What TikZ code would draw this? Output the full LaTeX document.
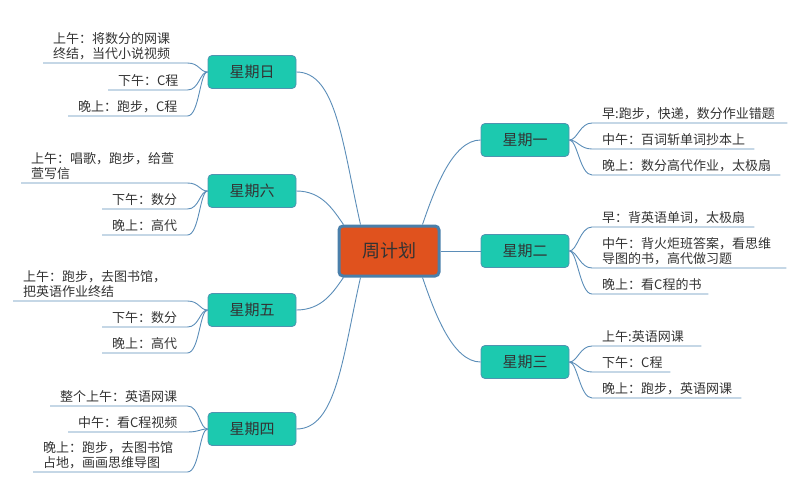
\documentclass[tikz,border=0pt]{standalone}
\usepackage{fontspec}
\setmainfont{Noto Sans CJK SC}
\definecolor{dayfill}{HTML}{1CC9AF}
\definecolor{dayline}{HTML}{4F93B0}
\definecolor{hubfill}{HTML}{E0521E}
\definecolor{hubline}{HTML}{4A7FAA}
\definecolor{branch}{HTML}{5B8DB8}
\definecolor{ink}{HTML}{333333}
\tikzset{
  hub/.style={rectangle,rounded corners=4pt,draw=hubline,line width=3pt,fill=hubfill,
    minimum width=100pt,minimum height=50pt,text=ink,font=\fontsize{18}{20}\selectfont},
  day/.style={rectangle,rounded corners=4pt,draw=dayline,line width=0.8pt,fill=dayfill,
    minimum width=88pt,minimum height=33pt,text=ink,font=\fontsize{15}{17}\selectfont},
  leaf/.style={inner xsep=10pt,inner ysep=3pt,align=left,text=ink,
    font=\fontsize{13}{15}\selectfont},
  wire/.style={draw=branch,line width=0.9pt}
}
\begin{document}
\begin{tikzpicture}[x=1pt,y=-1pt]
  \useasboundingbox (0,0) rectangle (800,500);
  % centre and days
  \node[hub] (hub) at (389,251) {周计划};
  \node[day] (sun) at (252,72) {星期日};
  \node[day] (sat) at (252,191) {星期六};
  \node[day] (fri) at (252,310) {星期五};
  \node[day] (thu) at (252,429) {星期四};
  \node[day] (mon) at (525,140) {星期一};
  \node[day] (tue) at (525,251) {星期二};
  \node[day] (wed) at (525,362) {星期三};
  % hub to days
  \coordinate (hubA) at ([xshift=6pt]hub.north west);
  \coordinate (hubB) at ([xshift=23pt]hub.north west);
  \coordinate (hubC) at ([xshift=6pt]hub.south west);
  \coordinate (hubD) at ([xshift=23pt]hub.south west);
  \coordinate (hubE) at ([xshift=-18pt]hub.north east);
  \coordinate (hubF) at ([xshift=-18pt]hub.south east);
  \draw[wire] (sun.east) .. controls +(40,0) and +(-18,-80) .. (hubB);
  \draw[wire] (sat.east) .. controls +(26,0) and +(-10,-14) .. (hubA);
  \draw[wire] (fri.east) .. controls +(26,0) and +(-10,14) .. (hubC);
  \draw[wire] (thu.east) .. controls +(40,0) and +(-18,80) .. (hubD);
  \draw[wire] (mon.west) .. controls +(-28,0) and +(12,-35) .. (hubE);
  \draw[wire] (tue.west) -- (hub.east);
  \draw[wire] (wed.west) .. controls +(-28,0) and +(12,35) .. (hubF);
  % left leaves
  \node[leaf,anchor=south west,text width=124pt] (sun1) at (43,63) {上午：将数分的网课\\终结，当代小说视频};
  \node[leaf,anchor=south west,text width=59pt] (sun2) at (108,90) {下午：C程};
  \node[leaf,anchor=south west,text width=99pt] (sun3) at (68,116) {晚上：跑步，C程};
  \node[leaf,anchor=south west,text width=146pt] (sat1) at (21,183) {上午：唱歌，跑步，给萱\\萱写信};
  \node[leaf,anchor=south west,text width=65pt] (sat2) at (102,209) {下午：数分};
  \node[leaf,anchor=south west,text width=65pt] (sat3) at (102,235) {晚上：高代};
  \node[leaf,anchor=south west,text width=154pt] (fri1) at (13,301) {上午：跑步，去图书馆，\\把英语作业终结};
  \node[leaf,anchor=south west,text width=65pt] (fri2) at (102,327) {下午：数分};
  \node[leaf,anchor=south west,text width=65pt] (fri3) at (102,353) {晚上：高代};
  \node[leaf,anchor=south west,text width=117pt] (thu1) at (50,406) {整个上午：英语网课};
  \node[leaf,anchor=south west,text width=99pt] (thu2) at (68,432) {中午：看C程视频};
  \node[leaf,anchor=south west,text width=134pt] (thu3) at (33,472) {晚上：跑步，去图书馆\\占地，画画思维导图};
  % right leaves
  \node[leaf,anchor=south west,text width=175pt] (mon1) at (592,123) {早:跑步，快递，数分作业错题};
  \node[leaf,anchor=south west,text width=142pt] (mon2) at (592,149) {中午：百词斩单词抄本上};
  \node[leaf,anchor=south west,text width=168pt] (mon3) at (592,175) {晚上：数分高代作业，太极扇};
  \node[leaf,anchor=south west,text width=142pt] (tue1) at (592,227) {早：背英语单词，太极扇};
  \node[leaf,anchor=south west,text width=174pt] (tue2) at (592,268) {中午：背火炬班答案，看思维\\导图的书，高代做习题};
  \node[leaf,anchor=south west,text width=96pt] (tue3) at (592,294) {晚上：看C程的书};
  \node[leaf,anchor=south west,text width=89pt] (wed1) at (592,346) {上午:英语网课};
  \node[leaf,anchor=south west,text width=58pt] (wed2) at (592,372) {下午：C程};
  \node[leaf,anchor=south west,text width=129pt] (wed3) at (592,398) {晚上：跑步，英语网课};
  % underlines and leaf wires
  \foreach \d in {sun,sat,fri,thu}{
    \foreach \i in {1,2,3}{
      \draw[wire] (\d\i.south west) -- (\d\i.south east)
        .. controls +(12,0) and +(-8,0) .. (\d.west);
    }
  }
  \foreach \d in {mon,tue,wed}{
    \foreach \i in {1,2,3}{
      \draw[wire] (\d\i.south east) -- (\d\i.south west)
        .. controls +(-12,0) and +(8,0) .. (\d.east);
    }
  }
\end{tikzpicture}
\end{document}
